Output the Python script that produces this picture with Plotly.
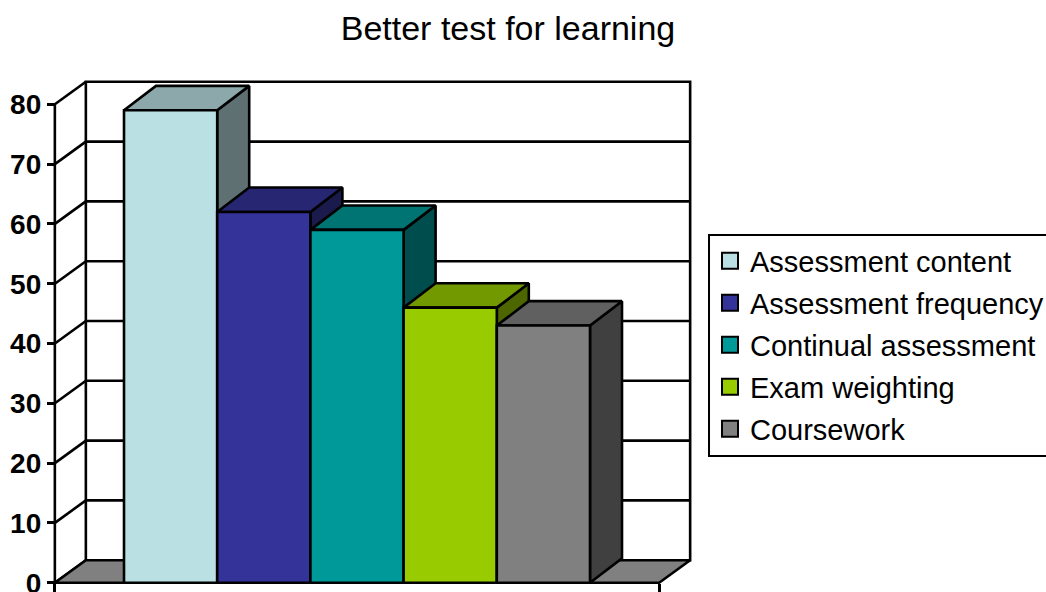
import plotly.graph_objects as go

# Survey results: which approach makes a better test for learning
categories = ["Assessment content", "Assessment frequency", "Continual assessment",
              "Exam weighting", "Coursework"]
values = [79, 62, 59, 46, 43]
front_colors = ["#BBE0E3", "#333399", "#009999", "#99CC00", "#808080"]
top_colors = ["#8CA8AA", "#262673", "#007373", "#739900", "#606060"]
side_colors = ["#5E7072", "#1A1A4D", "#004D4D", "#4D6600", "#404040"]
y_ticks = [0, 10, 20, 30, 40, 50, 60, 70, 80]

W, H = 1046, 592
FONT = "Liberation Sans, Arial, sans-serif"
LW = 2.6

# pixel geometry of the plotting frame -> data coordinates
X0_PX, X_UNIT = 170.6, 93.2        # centre of first column, px per column
Y0_PX, Y_UNIT = 582.7, 5.98        # baseline, px per value unit
x_range = [(0 - X0_PX) / X_UNIT, (W - X0_PX) / X_UNIT]
y_range = [(Y0_PX - H) / Y_UNIT, Y0_PX / Y_UNIT]

n = len(values)
GAP = 0.742                        # floor overhang beside the outer columns
xf0, xf1 = -0.5 - GAP, n - 0.5 + GAP
DXW, DYW = 31 / X_UNIT, 22.5 / Y_UNIT   # depth of walls / floor
DXB, DYB = 32 / X_UNIT, 24.4 / Y_UNIT   # depth of the columns
vmax = y_ticks[-1]

fig = go.Figure()


def poly(xs, ys, fill, name=None):
    fig.add_trace(go.Scatter(
        x=xs + [xs[0]], y=ys + [ys[0]], mode="lines", fill="toself",
        fillcolor=fill, line=dict(color="black", width=LW),
        showlegend=False, hoverinfo="skip", name=name))


def seg(xs, ys, width=LW):
    fig.add_trace(go.Scatter(x=xs, y=ys, mode="lines",
                             line=dict(color="black", width=width),
                             showlegend=False, hoverinfo="skip"))


# back wall
poly([xf0 + DXW, xf1 + DXW, xf1 + DXW, xf0 + DXW],
     [DYW, DYW, vmax + DYW, vmax + DYW], "white")
# gridlines on the back wall and the left side wall
for t in y_ticks:
    if 0 < t < vmax:
        seg([xf0 + DXW, xf1 + DXW], [t + DYW, t + DYW])
    seg([xf0, xf0 + DXW], [t, t + DYW])
# front value axis line
seg([xf0, xf0], [0, vmax])
# floor
poly([xf0, xf1, xf1 + DXW, xf0 + DXW], [0, 0, DYW, DYW], "#808080")

# columns: side, top, then front face, left to right
for i, (v, fc, tc, sc, name) in enumerate(zip(values, front_colors, top_colors,
                                              side_colors, categories)):
    l, r = i - 0.5, i + 0.5
    poly([r, r, r + DXB, r + DXB], [0, v, v + DYB, DYB], sc)
    poly([l, r, r + DXB, l + DXB], [v, v, v + DYB, v + DYB], tc)
    poly([l, r, r, l], [0, 0, v, v], fc, name)

# legend entries
for i, (name, fc) in enumerate(zip(categories, front_colors)):
    fig.add_trace(go.Scatter(
        x=[None], y=[None], mode="markers", name=name, legendgroup=name,
        marker=dict(symbol="square", size=16, color=fc,
                    line=dict(color="black", width=2)),
        showlegend=True))

fig.update_layout(
    width=W, height=H,
    margin=dict(l=0, r=0, t=0, b=0, pad=0, autoexpand=False),
    paper_bgcolor="white", plot_bgcolor="white",
    font=dict(family=FONT, color="black"),
    title=dict(text="Better test for learning", x=508 / W, xanchor="center",
               y=1 - 28 / H, yanchor="middle",
               font=dict(family=FONT, size=34, color="black")),
    showlegend=True,
    legend=dict(x=708 / W, y=1 - 233.5 / H, xanchor="left", yanchor="top",
                bgcolor="white", bordercolor="black", borderwidth=2,
                font=dict(family=FONT, size=29, color="black"),
                tracegroupgap=1.3, itemsizing="trace"),
    xaxis=dict(range=x_range, anchor="free", position=1 - Y0_PX / H,
               showgrid=False, zeroline=False, showline=False,
               tickvals=[xf0, xf1], ticktext=["", ""], ticks="outside",
               ticklen=9, tickwidth=LW, tickcolor="black", fixedrange=True),
    yaxis=dict(range=y_range, anchor="free", position=(X0_PX + xf0 * X_UNIT) / W,
               showgrid=False, zeroline=False, showline=False,
               tickvals=y_ticks, ticks="outside", ticklen=8, tickwidth=LW,
               tickcolor="black", ticklabeloverflow="allow",
               tickfont=dict(family=FONT, size=28, color="black", weight="bold"),
               fixedrange=True),
)

fig.write_html("out.html")
